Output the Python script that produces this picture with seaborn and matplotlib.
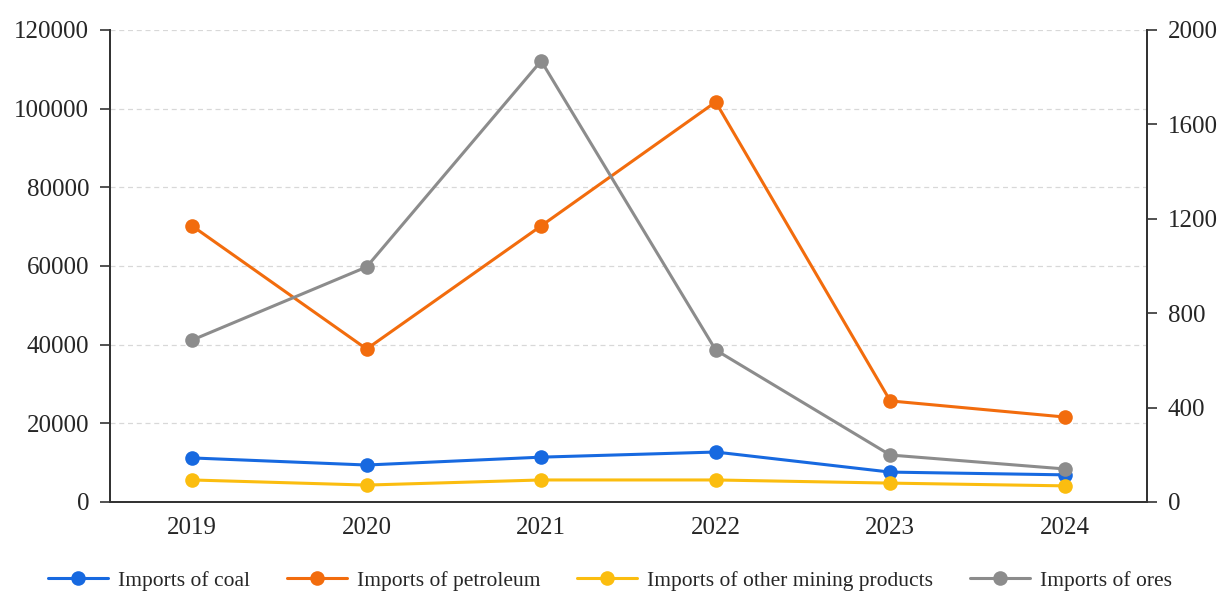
import matplotlib
matplotlib.use("Agg")
import matplotlib.pyplot as plt
import seaborn as sns
import pandas as pd
from matplotlib.lines import Line2D

years = ["2019", "2020", "2021", "2022", "2023", "2024"]
coal = [11200, 9400, 11400, 12700, 7600, 6900]
petroleum = [70200, 38900, 70200, 101700, 25700, 21600]
other_mining = [5600, 4300, 5600, 5600, 4800, 4100]
ores = [686, 996, 1869, 644, 199, 140]

left_names = ["Imports of coal", "Imports of petroleum", "Imports of other mining products"]
right_name = "Imports of ores"
colors = {"Imports of coal": "#1769e0", "Imports of petroleum": "#f26c0d",
          "Imports of other mining products": "#fbbd0f", "Imports of ores": "#8c8c8c"}

sns.set_theme(style="white")
plt.rcParams["font.family"] = ["Liberation Serif", "DejaVu Serif"]

df = pd.DataFrame({
    "year": years * 3,
    "value": coal + petroleum + other_mining,
    "series": [left_names[0]] * 6 + [left_names[1]] * 6 + [left_names[2]] * 6,
})
df_ores = pd.DataFrame({"year": years, "value": ores, "series": right_name})

MS = 10.5
LW = 2.2
fig = plt.figure(figsize=(12.2, 5.94), dpi=100)
ax = fig.add_axes([0.0902, 0.1549, 0.8498, 0.7946])
sns.lineplot(data=df, x="year", y="value", hue="series", palette=colors, marker="o",
             markersize=MS, markeredgewidth=0, linewidth=LW, ax=ax, legend=False, sort=False)
ax2 = ax.twinx()
sns.lineplot(data=df_ores, x="year", y="value", color=colors[right_name], marker="o",
             markersize=MS, markeredgewidth=0, linewidth=LW, ax=ax2, legend=False, sort=False)

ax.set_ylim(0, 120000)
ax2.set_ylim(0, 2000)
ax.set_yticks(range(0, 120001, 20000))
ax2.set_yticks(range(0, 2001, 400))
ax.set_xlim(-0.47, 5.47)
ax.set_xlabel("")
ax.set_ylabel("")
ax2.set_ylabel("")

ax.yaxis.grid(True, linestyle=(0, (4, 3)), color="#d8d8d8", linewidth=0.9)
ax.set_axisbelow(True)

for a in (ax, ax2):
    a.spines["top"].set_visible(False)
    for s in ("left", "right", "bottom"):
        a.spines[s].set_color("#333333")
        a.spines[s].set_linewidth(1.3)
ax.tick_params(axis="y", left=True, length=7, width=1.2, color="#333333", labelsize=18, pad=8)
ax2.tick_params(axis="y", right=True, length=7, width=1.2, color="#333333", labelsize=18, pad=8)
ax.tick_params(axis="x", bottom=False, labelsize=18, pad=5)

handles = [Line2D([0], [0], color=colors[n], marker="o", markersize=MS, markeredgewidth=0,
                  linewidth=LW) for n in left_names + [right_name]]
fig.legend(handles, left_names + [right_name], loc="center", ncol=4,
           bbox_to_anchor=(0.5, 0.022), frameon=False, fontsize=15.5, handlelength=2.8,
           columnspacing=1.7, handletextpad=0.47)

fig.savefig("out.png", dpi=100, facecolor="white")
